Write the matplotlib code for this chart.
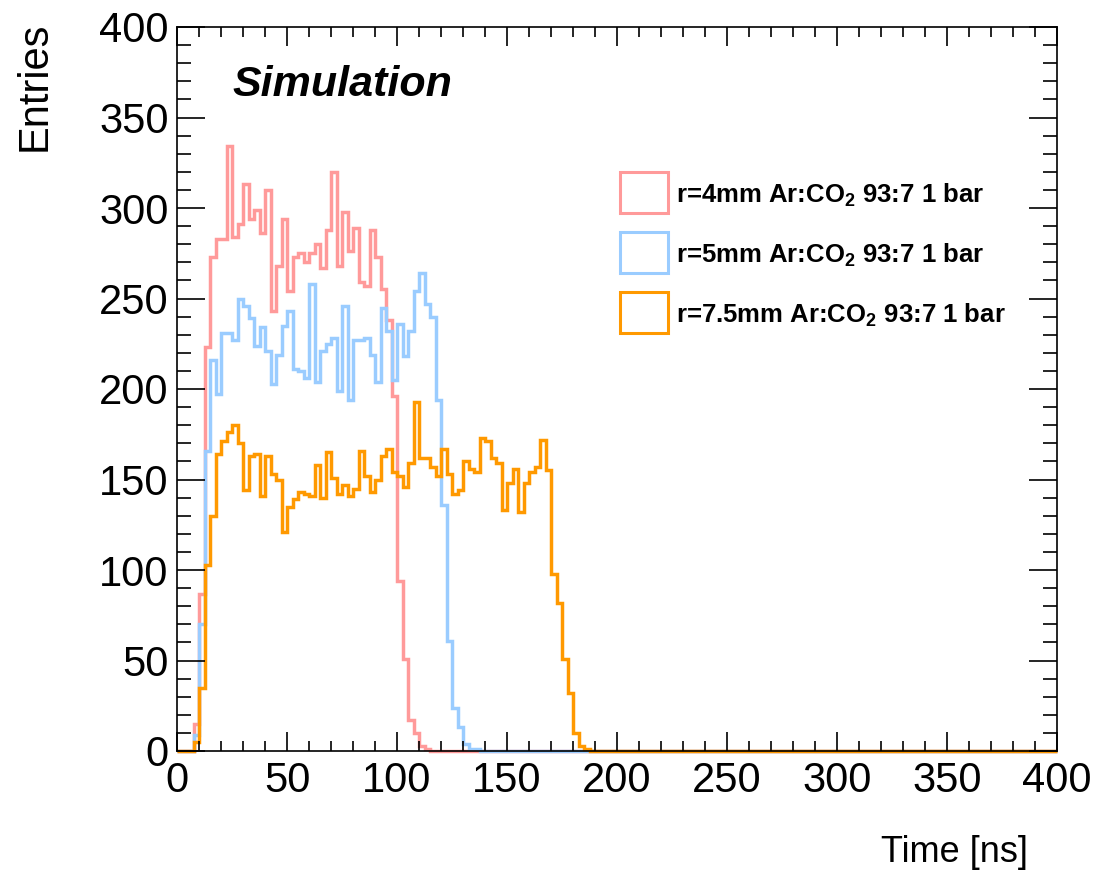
import matplotlib
matplotlib.use('Agg')
import matplotlib.pyplot as plt
import numpy as np
from matplotlib.patches import Rectangle
from matplotlib.ticker import MultipleLocator

plt.rcParams['font.family'] = ['Liberation Sans', 'DejaVu Sans']
plt.rcParams['mathtext.fontset'] = 'custom'
plt.rcParams['mathtext.rm'] = 'Liberation Sans'
plt.rcParams['mathtext.bf'] = 'Liberation Sans:bold'

# histogram binning: 160 bins of 2.5 ns over 0-400 ns
bin_width = 2.5
t_max = 400
n_bins = int(t_max / bin_width)

# entries per bin (bins beyond the listed ones are empty)
r4mm = [0, 0, 0, 15, 87, 223, 273, 283, 283, 334, 284, 291, 313, 294, 299, 286,
        310, 243, 268, 294, 254, 273, 275, 270, 275, 280, 267, 288, 320, 268, 298,
        276, 289, 259, 257, 288, 273, 255, 238, 196, 94, 51, 17, 10, 3, 1]
r5mm = [0, 0, 0, 9, 70, 166, 216, 197, 231, 231, 227, 250, 246, 239, 224, 234,
        221, 203, 219, 235, 243, 211, 210, 206, 258, 204, 221, 225, 228, 199, 246,
        194, 227, 227, 228, 219, 204, 245, 232, 205, 236, 218, 232, 254, 264, 247,
        240, 194, 136, 61, 24, 13, 4, 1, 1]
r75mm = [0, 0, 0, 5, 35, 103, 130, 164, 171, 176, 180, 170, 144, 163, 164, 141,
         163, 153, 150, 121, 135, 139, 143, 142, 141, 158, 140, 165, 151, 142, 147,
         141, 145, 166, 152, 143, 150, 163, 167, 154, 152, 146, 159, 193, 162, 162,
         157, 152, 167, 153, 142, 144, 160, 156, 154, 173, 171, 162, 159, 133, 148,
         156, 132, 148, 154, 157, 172, 155, 98, 82, 51, 32, 10, 3, 1]

labels = ['r=4mm Ar:CO$_{\\mathbf{2}}$ 93:7 1 bar',
          'r=5mm Ar:CO$_{\\mathbf{2}}$ 93:7 1 bar',
          'r=7.5mm Ar:CO$_{\\mathbf{2}}$ 93:7 1 bar']
colors = ['#ff9a9a', '#9accff', '#ff9900']

edges = np.arange(0, t_max + bin_width, bin_width)

W, H = 1096, 875
L, R, T, B = 177, 1057, 27, 751
fig = plt.figure(figsize=(W/100, H/100), dpi=100)
ax = fig.add_axes([L/W, 1-B/H, (R-L)/W, (B-T)/H])

for counts, c in zip([r4mm, r5mm, r75mm], colors):
    h = np.array(counts + [0]*(n_bins - len(counts)), dtype=float)
    ax.stairs(h, edges, color=c, linewidth=2.5, baseline=None, clip_on=False)

ax.set_xlim(0, 400)
ax.set_ylim(0, 400)
ax.xaxis.set_major_locator(MultipleLocator(50))
ax.xaxis.set_minor_locator(MultipleLocator(10))
ax.yaxis.set_major_locator(MultipleLocator(50))
ax.yaxis.set_minor_locator(MultipleLocator(10))
ax.tick_params(which='both', direction='in', top=True, right=True, width=1.2)
ax.tick_params(axis='y', which='major', length=20, pad=6, labelsize=30)
ax.tick_params(axis='y', which='minor', length=10)
ax.tick_params(axis='x', which='major', length=13.5, pad=7, labelsize=30)
ax.tick_params(axis='x', which='minor', length=7)
for s in ax.spines.values():
    s.set_linewidth(1.2)

fig.text(35/W, 1-22/H, 'Entries', rotation=90, ha='center', va='top', fontsize=30)
fig.text(1028/W, 1-852/H, 'Time [ns]', ha='right', va='center', fontsize=26)
fig.text(232/W, 1-85/H, 'Simulation', ha='left', va='center', fontsize=31,
         fontweight='bold', style='italic')

# legend drawn by hand, ROOT style (outlined boxes)
def ax_x(px):
    return (px - L) / (R - L)

def ax_y(py):
    return (B - py) / (B - T)

for i, (lab, c) in enumerate(zip(labels, colors)):
    top = 172 + 60*i
    ax.add_patch(Rectangle((ax_x(620), ax_y(top + 41)), ax_x(668) - ax_x(620),
                           ax_y(top) - ax_y(top + 41), transform=ax.transAxes,
                           fill=False, edgecolor=c, linewidth=2.2, clip_on=False))
    ax.text(ax_x(676), ax_y(top + 20), lab, transform=ax.transAxes, ha='left',
            va='center_baseline', fontsize=18.5, fontweight='bold')

fig.savefig('out.png', dpi=100)
